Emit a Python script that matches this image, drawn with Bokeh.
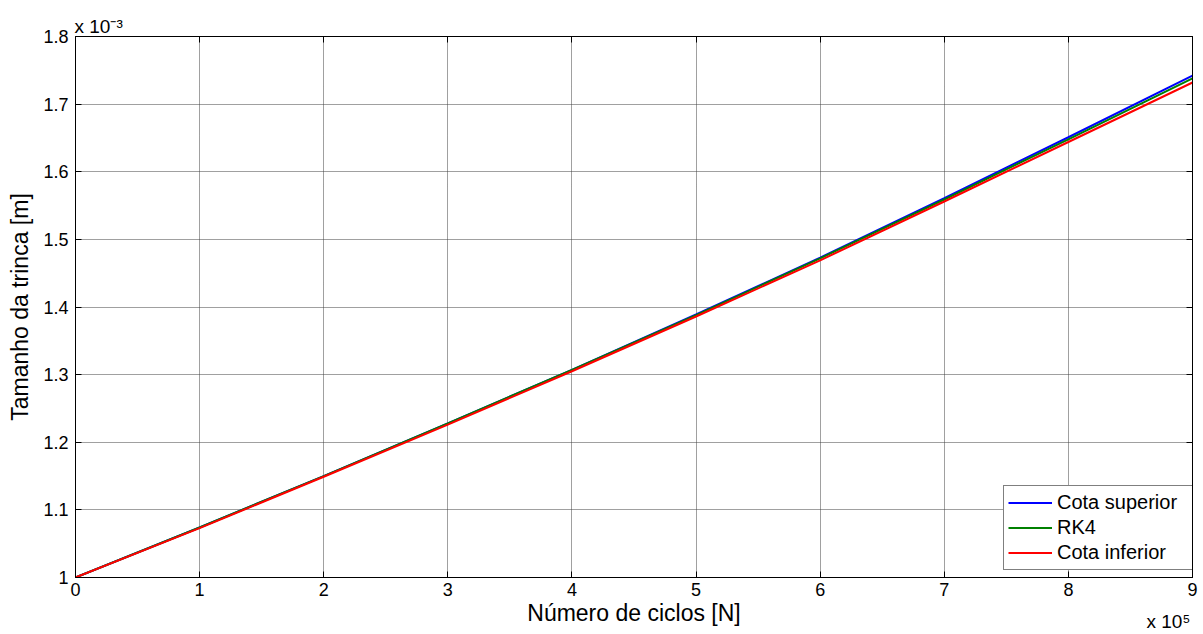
from bokeh.plotting import figure
from bokeh.models import (Range1d, FixedTicker, CustomJSTickFormatter, LinearAxis,
                          Title, Legend, LegendItem)
from bokeh.embed import file_html
from bokeh.resources import INLINE

# Data (x in units of 1e5 cycles, y in units of 1e-3 m)
ciclos_1e5 = [0, 1, 2, 3, 4, 5, 6, 7, 8, 9]
cota_superior = [1.000, 1.074, 1.150, 1.228, 1.307, 1.389, 1.473, 1.561, 1.651, 1.742]
rk4 = [1.000, 1.074, 1.150, 1.228, 1.307, 1.388, 1.472, 1.559, 1.648, 1.738]
cota_inferior = [1.000, 1.073, 1.149, 1.226, 1.305, 1.386, 1.469, 1.556, 1.644, 1.732]

x_ticks = [0, 1, 2, 3, 4, 5, 6, 7, 8, 9]
y_ticks = [1.0, 1.1, 1.2, 1.3, 1.4, 1.5, 1.6, 1.7, 1.8]
x_multiplier = "x 10\u2075"
y_multiplier = "x 10\u207b\u00b3"

FONT = "Liberation Sans"

p = figure(width=1200, height=634, output_backend="svg", toolbar_location=None,
           title=None,
           x_range=Range1d(0, 9), y_range=Range1d(1.0, 1.8),
           min_border_left=75, min_border_right=8, min_border_top=36, min_border_bottom=57,
           x_axis_label="Número de ciclos [N]", y_axis_label="Tamanho da trinca [m]")

p.background_fill_color = "white"
p.border_fill_color = "white"
p.outline_line_color = "black"
p.outline_line_width = 1

# grid
p.xgrid.ticker = FixedTicker(ticks=x_ticks)
p.ygrid.ticker = FixedTicker(ticks=y_ticks)
for g in (p.xgrid, p.ygrid):
    g.grid_line_color = "#404040"
    g.grid_line_dash = "1 1"
    g.grid_line_width = 1

yfmt = CustomJSTickFormatter(code="return Number(tick.toFixed(1)).toString()")

xa = p.xaxis[0]
xa.ticker = FixedTicker(ticks=x_ticks)
ya = p.yaxis[0]
ya.ticker = FixedTicker(ticks=y_ticks)
ya.formatter = yfmt

for ax in (xa, ya):
    ax.major_tick_in = 6
    ax.major_tick_out = 0
    ax.minor_tick_in = 0
    ax.minor_tick_out = 0
    ax.axis_line_color = "black"
    ax.major_tick_line_color = "black"
    ax.major_label_text_font = FONT
    ax.major_label_text_font_size = "18px"
    ax.major_label_text_color = "black"
    ax.axis_label_text_font = FONT
    ax.axis_label_text_font_size = "23px"
    ax.axis_label_text_font_style = "normal"
    ax.axis_label_text_color = "black"

xa.major_label_standoff = 5
xa.axis_label_standoff = 1
ya.major_label_standoff = 7
ya.axis_label_standoff = 7

# mirrored ticks on the top and right
top = LinearAxis(ticker=FixedTicker(ticks=x_ticks),
                 formatter=CustomJSTickFormatter(code="return ''"),
                 major_label_standoff=0, major_tick_in=6, major_tick_out=0,
                 minor_tick_in=0, minor_tick_out=0, axis_line_color="black")
p.add_layout(top, "above")
right = LinearAxis(ticker=FixedTicker(ticks=y_ticks),
                   formatter=CustomJSTickFormatter(code="return ''"),
                   major_label_standoff=0, major_tick_in=6, major_tick_out=0,
                   minor_tick_in=0, minor_tick_out=0, axis_line_color="black")
p.add_layout(right, "right")

r1 = p.line(ciclos_1e5, cota_superior, line_color="#0000ff", line_width=2)
r2 = p.line(ciclos_1e5, rk4, line_color="#008000", line_width=2)
r3 = p.line(ciclos_1e5, cota_inferior, line_color="#ff0000", line_width=2)

legend = Legend(items=[LegendItem(label="Cota superior", renderers=[r1]),
                       LegendItem(label="RK4", renderers=[r2]),
                       LegendItem(label="Cota inferior", renderers=[r3])],
                location=(928, 7), padding=4, spacing=0, margin=0,
                glyph_width=44, glyph_height=25, label_height=25, label_width=132,
                label_standoff=5,
                label_text_font=FONT, label_text_font_size="20px", label_text_color="black",
                border_line_color="black", border_line_width=1,
                background_fill_color="white", background_fill_alpha=1.0)
p.add_layout(legend, "center")

# exponent multipliers as titles in side panels
t_top = Title(text=y_multiplier, align="left", offset=-1, standoff=0,
              text_font=FONT, text_font_size="19px", text_font_style="normal",
              text_color="black", vertical_align="bottom")
p.add_layout(t_top, "above")
t_bot = Title(text=x_multiplier, align="left", offset=1071, standoff=-36,
              text_font=FONT, text_font_size="19px", text_font_style="normal",
              text_color="black", vertical_align="top")
p.add_layout(t_bot, "below")

open("out.html", "w").write(file_html(p, INLINE))
